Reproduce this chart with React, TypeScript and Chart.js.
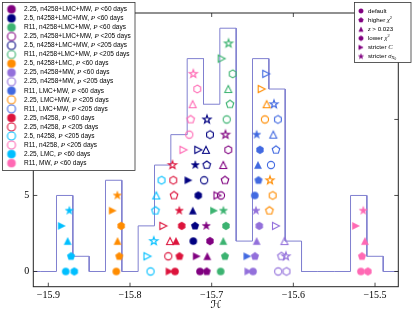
import React, { useEffect, useRef } from 'react';
import { Chart, registerables } from 'chart.js';

Chart.register(...registerables);

// ---- analyses (legend order) ----
const analysisNames = [
  '2.25, n4258+LMC+MW', '2.5, n4258+LMC+MW', 'R11, n4258+LMC+MW',
  '2.25, n4258+LMC+MW', '2.5, n4258+LMC+MW', 'R11, n4258+LMC+MW',
  '2.5, n4258+LMC', '2.25, n4258+MW', '2.25, n4258+MW',
  'R11, LMC+MW', '2.25, LMC+MW', 'R11, LMC+MW',
  '2.25, n4258', '2.25, n4258', '2.5, n4258', 'R11, n4258',
  '2.25, LMC', 'R11, MW',
];
const periodCuts = [60, 60, 60, 205, 205, 205, 60, 60, 205, 60, 205, 205, 60, 205, 205, 205, 60, 60];
const analysisColors = [
  '#800080', '#000080', '#3cb371', '#800080', '#000080', '#3cb371',
  '#ff8c00', '#9370db', '#9370db', '#4169e1', '#ff8c00', '#4169e1',
  '#dc143c', '#dc143c', '#00bfff', '#ff69b4', '#00bfff', '#ff69b4',
];
const analysisFilled = [
  true, true, true, false, false, false,
  true, true, false, true, false, false,
  true, false, false, false, true, true,
];

// ---- variants (marker shapes) ----
const variantNames = ['default', 'higher χ²', 'z > 0.023', 'lower χ²', 'stricter C', 'stricter σX0'];
const variantShapes = ['circle', 'pentagon', 'triangle', 'hexagon', 'rightTriangle', 'star'];

// ---- H values, order: default, higher χ², z>0.023, lower χ², stricter C, stricter σ ----
const h225AllP60 = [-15.7143, -15.7061, -15.7054, -15.7021, -15.7184, -15.7066];
const h25AllP60 = [-15.7225, -15.7204, -15.7231, -15.7164, -15.7286, -15.7201];
const hR11AllP60 = [-15.6890, -15.6837, -15.6858, -15.6825, -15.6972, -15.6856];
const h225AllP205 = [-15.6886, -15.6837, -15.6858, -15.6797, -15.6929, -15.6831];
const h25AllP205 = [-15.7092, -15.7061, -15.7070, -15.7021, -15.7164, -15.7058];
const hR11AllP205 = [-15.6816, -15.6776, -15.6797, -15.6743, -15.6878, -15.6794];
const h25N4258LmcP60 = [-15.8168, -15.8131, -15.8153, -15.8108, -15.8212, -15.8155];
const h225N4258MwP60 = [-15.6494, -15.6470, -15.6449, -15.6417, -15.6552, -15.6458];
const h225N4258MwP205 = [-15.6185, -15.6146, -15.6109, -15.6084, -15.6213, -15.6091];
const hR11LmcMwP60 = [-15.6472, -15.6427, -15.6433, -15.6409, -15.6564, -15.6449];
const h225LmcMwP205 = [-15.6348, -15.6293, -15.6327, -15.6253, -15.6388, -15.6286];
const hR11LmcMwP205 = [-15.6274, -15.6213, -15.6246, -15.6189, -15.6332, -15.6237];
const h225N4258P60 = [-15.7449, -15.7394, -15.7437, -15.7367, -15.7517, -15.7397];
const h225N4258P205 = [-15.7531, -15.7461, -15.7510, -15.7470, -15.7592, -15.7480];
const h25N4258P205 = [-15.7749, -15.7688, -15.7678, -15.7614, -15.7786, -15.7709];
const hR11N4258P205 = [-15.7274, -15.7257, -15.7233, -15.7176, -15.7345, -15.7225];
const h225LmcP60 = [-15.8787, -15.8722, -15.8763, -15.8682, -15.8836, -15.8743];
const hR11MwP60 = [-15.5173, -15.5160, -15.5124, -15.5087, -15.5234, -15.5144];

const hValues = [
  h225AllP60, h25AllP60, hR11AllP60, h225AllP205, h25AllP205, hR11AllP205,
  h25N4258LmcP60, h225N4258MwP60, h225N4258MwP205, hR11LmcMwP60, h225LmcMwP205, hR11LmcMwP205,
  h225N4258P60, h225N4258P205, h25N4258P205, hR11N4258P205, h225LmcP60, hR11MwP60,
];

const xTickValues = [-15.9, -15.8, -15.7, -15.6, -15.5];
const yTickValues = [0, 5, 10, 15];

// histogram configuration
const binStart = -15.93;
const binWidth = 0.02;
const binCount = 23;

// ---- histogram counts and stacking levels derived from the data ----
const binIndex = (h: number) => Math.floor((h - binStart) / binWidth + 1e-9);
const binCounts: number[] = new Array(binCount).fill(0);
const stackLevels: number[][] = hValues.map((arr) =>
  arr.map((h) => {
    const b = binIndex(h);
    const lvl = binCounts[b];
    binCounts[b] += 1;
    return lvl;
  })
);
const histPoints: { x: number; y: number }[] = [];
for (let i = 0; i < binCount; i++) {
  histPoints.push({ x: binStart + i * binWidth, y: binCounts[i] });
  histPoints.push({ x: binStart + (i + 1) * binWidth, y: binCounts[i] });
}

const SANS = '"Liberation Sans", Arial, sans-serif';
const SERIF = '"Liberation Serif", "Times New Roman", serif';

function makeMarker(shape: string, color: string, filled: boolean, s: number): HTMLCanvasElement {
  const size = Math.ceil(11 * s) + 3;
  const c = document.createElement('canvas');
  c.width = size;
  c.height = size;
  const g = c.getContext('2d') as CanvasRenderingContext2D;
  const cx = size / 2;
  const cy = size / 2;
  g.beginPath();
  const poly = (n: number, r: number, start: number) => {
    for (let k = 0; k < n; k++) {
      const a = start + (k * 2 * Math.PI) / n;
      const px = cx + r * Math.cos(a);
      const py = cy + r * Math.sin(a);
      if (k === 0) g.moveTo(px, py);
      else g.lineTo(px, py);
    }
  };
  if (shape === 'circle') {
    g.arc(cx, cy, 3.6 * s, 0, Math.PI * 2);
  } else if (shape === 'pentagon') {
    poly(5, 4.0 * s, -Math.PI / 2);
  } else if (shape === 'hexagon') {
    poly(6, 3.9 * s, -Math.PI / 2);
  } else if (shape === 'triangle') {
    const r = 3.5 * s;
    g.moveTo(cx, cy - r);
    g.lineTo(cx - r, cy + r);
    g.lineTo(cx + r, cy + r);
  } else if (shape === 'rightTriangle') {
    const r = 3.5 * s;
    g.moveTo(cx + r, cy);
    g.lineTo(cx - r, cy - r);
    g.lineTo(cx - r, cy + r);
  } else if (shape === 'star') {
    for (let k = 0; k < 10; k++) {
      const r = k % 2 === 0 ? 4.3 * s : 1.7 * s;
      const a = -Math.PI / 2 + (k * Math.PI) / 5;
      const px = cx + r * Math.cos(a);
      const py = cy + r * Math.sin(a);
      if (k === 0) g.moveTo(px, py);
      else g.lineTo(px, py);
    }
  }
  g.closePath();
  if (filled) {
    g.fillStyle = color;
    g.fill();
    g.strokeStyle = color;
    g.lineWidth = 0.5;
    g.stroke();
  } else {
    g.strokeStyle = color;
    g.lineWidth = 1.1;
    g.stroke();
  }
  return c;
}

type Seg = { t: string; font: string; dy?: number };

function drawSegs(ctx: CanvasRenderingContext2D, x: number, y: number, segs: Seg[]) {
  let cx = x;
  for (const s of segs) {
    ctx.font = s.font;
    ctx.fillText(s.t, cx, y + (s.dy || 0));
    cx += ctx.measureText(s.t).width;
  }
}

const fmtNum = (v: number, digits: number) => {
  const s = Math.abs(v).toFixed(digits);
  return v < 0 ? '\u2212' + s : s;
};

export default function App() {
  const ref = useRef<HTMLCanvasElement>(null);

  useEffect(() => {
    const canvas = ref.current;
    if (!canvas) return;

    const pointImages = hValues.map((_, i) =>
      variantShapes.map((s) => makeMarker(s, analysisColors[i], analysisFilled[i], 1))
    );
    const legendMarkers = analysisColors.map((c, i) => makeMarker('circle', c, analysisFilled[i], 1.12));
    const keyMarkers = variantShapes.map((s) => makeMarker(s, '#800080', true, 0.62));

    const datasets: any[] = hValues.map((arr, i) => ({
      label: `${analysisNames[i]}, P <${periodCuts[i]} days`,
      data: arr.map((h, j) => ({ x: h, y: stackLevels[i][j] })),
      pointStyle: pointImages[i],
      pointRadius: 4,
      pointHoverRadius: 4,
      backgroundColor: analysisColors[i],
      borderColor: analysisColors[i],
      showLine: false,
      order: 1,
    }));
    datasets.push({
      label: 'histogram',
      data: histPoints,
      showLine: true,
      borderColor: '#8080d0',
      borderWidth: 1,
      pointRadius: 0,
      pointHoverRadius: 0,
      fill: false,
      tension: 0,
      order: 2,
    });

    const framePlugin = {
      id: 'frameTicks',
      afterDraw(chart: any) {
        const { ctx, chartArea } = chart;
        const { left, right, top, bottom } = chartArea;
        const xs = chart.scales.x;
        const ys = chart.scales.y;
        ctx.save();
        ctx.strokeStyle = '#222';
        ctx.lineWidth = 1;
        ctx.strokeRect(left, top, right - left, bottom - top);
        ctx.lineWidth = 0.8;
        ctx.beginPath();
        for (const v of xTickValues) {
          const px = xs.getPixelForValue(v);
          ctx.moveTo(px, bottom);
          ctx.lineTo(px, bottom - 4);
          ctx.moveTo(px, top);
          ctx.lineTo(px, top + 4);
        }
        for (const v of yTickValues) {
          const py = ys.getPixelForValue(v);
          ctx.moveTo(left, py);
          ctx.lineTo(left + 4, py);
          ctx.moveTo(right, py);
          ctx.lineTo(right - 4, py);
        }
        ctx.stroke();
        ctx.restore();
      },
    };

    const legendPlugin = {
      id: 'twoLegends',
      afterDraw(chart: any) {
        const ctx: CanvasRenderingContext2D = chart.ctx;
        ctx.save();
        // left legend
        ctx.fillStyle = '#fff';
        ctx.fillRect(2.5, 2.5, 132.5, 168);
        ctx.strokeStyle = '#333';
        ctx.lineWidth = 0.8;
        ctx.strokeRect(2.5, 2.5, 132.5, 168);
        ctx.textBaseline = 'middle';
        ctx.fillStyle = '#000';
        analysisNames.forEach((name, i) => {
          const y = 9.3 + i * 9.05;
          const m = legendMarkers[i];
          ctx.drawImage(m, 11.5 - m.width / 2, y - m.height / 2);
          drawSegs(ctx, 24, y, [
            { t: `${name}, `, font: `6.5px ${SANS}` },
            { t: 'P', font: `italic 7px ${SERIF}` },
            { t: ` <${periodCuts[i]} days`, font: `6.5px ${SANS}` },
          ]);
        });
        // right legend
        ctx.fillStyle = '#fff';
        ctx.fillRect(354.5, 2.5, 56.5, 60);
        ctx.strokeStyle = '#333';
        ctx.strokeRect(354.5, 2.5, 56.5, 60);
        ctx.fillStyle = '#000';
        const f = `6.2px ${SANS}`;
        const fi = `italic 6.7px ${SERIF}`;
        const keySegs: Seg[][] = [
          [{ t: variantNames[0], font: f }],
          [{ t: 'higher ', font: f }, { t: 'χ', font: fi }, { t: '2', font: `4.4px ${SERIF}`, dy: -2.3 }],
          [{ t: 'z', font: fi }, { t: ' > 0.023', font: f }],
          [{ t: 'lower ', font: f }, { t: 'χ', font: fi }, { t: '2', font: `4.4px ${SERIF}`, dy: -2.3 }],
          [{ t: 'stricter ', font: f }, { t: 'C', font: fi }],
          [{ t: 'stricter ', font: f }, { t: 'σ', font: fi }, { t: 'X', font: `italic 4.6px ${SERIF}`, dy: 1.7 }, { t: '0', font: `3.5px ${SERIF}`, dy: 2.7 }],
        ];
        keySegs.forEach((segs, i) => {
          const y = 11 + i * 9.1;
          const m = keyMarkers[i];
          ctx.drawImage(m, 361 - m.width / 2, y - m.height / 2);
          drawSegs(ctx, 368, y, segs);
        });
        ctx.restore();
      },
    };

    const chart = new Chart(canvas, {
      type: 'scatter',
      data: { datasets },
      options: {
        animation: false,
        responsive: false,
        devicePixelRatio: 1,
        events: [],
        layout: { padding: { left: 0, top: 13, right: 16.7, bottom: 0 } },
        plugins: { legend: { display: false }, tooltip: { enabled: false } },
        scales: {
          x: {
            type: 'linear',
            min: -15.9184,
            max: -15.4715,
            afterBuildTicks: (s: any) => {
              s.ticks = xTickValues.map((v) => ({ value: v }));
            },
            afterFit: (s: any) => {
              s.height = 25.3;
            },
            grid: { display: false, drawTicks: false },
            border: { display: false },
            ticks: {
              padding: 2.5,
              autoSkip: false,
              maxRotation: 0,
              color: '#000',
              font: { family: SERIF, size: 10 },
              callback: (v: any) => fmtNum(Number(v), 1),
            },
            title: {
              display: true,
              text: 'ℋ',
              color: '#000',
              font: { family: '"DejaVu Serif", "DejaVu Sans", serif', size: 11 },
              padding: { top: 0, bottom: 0.5 },
            },
          },
          y: {
            type: 'linear',
            min: -1,
            max: 17,
            afterBuildTicks: (s: any) => {
              s.ticks = yTickValues.map((v) => ({ value: v }));
            },
            afterFit: (s: any) => {
              s.width = 33.3;
            },
            grid: { display: false, drawTicks: false },
            border: { display: false },
            ticks: {
              padding: 4,
              color: '#000',
              font: { family: SERIF, size: 10 },
              callback: (v: any) => fmtNum(Number(v), 0),
            },
          },
        },
      } as any,
      plugins: [framePlugin, legendPlugin],
    });

    return () => {
      chart.destroy();
    };
  }, []);

  return (
    <div style={{ position: 'fixed', left: 0, top: 0, width: 415, height: 312, background: '#fff' }}>
      <canvas ref={ref} width={415} height={312} style={{ width: 415, height: 312, display: 'block' }} />
    </div>
  );
}
